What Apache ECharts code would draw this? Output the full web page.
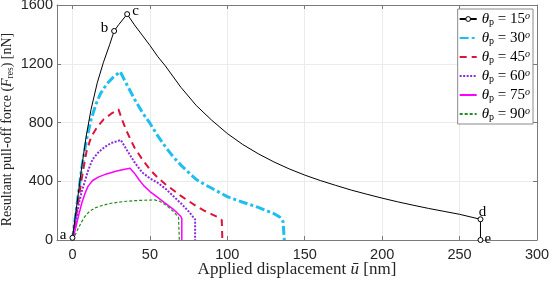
<!DOCTYPE html>
<html>
<head>
<meta charset="utf-8">
<script src="https://cdn.jsdelivr.net/npm/echarts@6/dist/echarts.min.js"></script>
<style>html,body{margin:0;padding:0;background:#fff}#c{width:550px;height:281px}</style>
</head>
<body>
<div id="c"></div>
<script>
// ---- data ----
const xTicks = [0, 50, 100, 150, 200, 250, 300];
const seriesNames = ['15', '30', '45', '60', '75', '90'];
const pointLetters = ['a', 'b', 'c', 'd', 'e'];
const pointIndex = [0, 8, 10, 35, 36];
const th15 = [[0,15],[3,255],[6,500],[9,715],[12,890],[16,1070],[20,1210],[24,1330],[26.9,1423],[30,1468],[35.3,1538],[40,1465],[45,1395],[50,1325],[55,1250],[60,1185],[70,1040],[80,915],[90,815],[100,725],[110,650],[120,587],[130,532],[140,484],[150,442],[160,405],[170,372],[180,340],[190,312],[200,285],[210,260],[220,237],[230,215],[240,195],[250,175],[263.5,141],[263.5,0]];
const th30 = [[0,0],[3,250],[6,490],[9,680],[12,820],[15,920],[18,995],[22,1060],[26,1105],[30.8,1146],[35,1060],[40,960],[45,870],[50,795],[55,710],[60,635],[65,567],[70,510],[75,460],[80,412],[85,380],[90,352],[100,295],[110,257],[120,222],[130,180],[134,155],[136,125],[136.8,0]];
const th45 = [[0,0],[3,210],[6,420],[9,600],[12,700],[16,770],[20,820],[25,860],[29.7,889],[32,820],[35,740],[40,630],[45,550],[50,480],[55,425],[60,380],[65,340],[70,300],[75,265],[80,230],[85,200],[90,175],[94,155],[96.4,136],[96.8,0]];
const th60 = [[0,0],[2,120],[4,240],[6,330],[8,400],[10,470],[13,550],[17,600],[21,635],[25,660],[31.2,681],[35,615],[40,530],[45,460],[50,420],[55,390],[60,350],[65,300],[70,250],[75,195],[78,155],[79.2,140],[79.2,0]];
const th75 = [[0,0],[2,80],[4,170],[6,250],[8,315],[10,365],[13,405],[17,430],[22,450],[28,468],[33,480],[37.2,488],[40,455],[43,410],[46,370],[50,330],[55,290],[60,250],[65,210],[68,180],[70,160],[70.6,145],[70.6,0]];
const th90 = [[0,0],[2,40],[4,85],[6,125],[8,160],[11,195],[15,220],[20,238],[25,250],[30,258],[35,264],[40,268],[45,270],[50,272],[53,273],[56,265],[60,240],[63,215],[66,185],[68.5,155],[69,0]];

// ---- chart ----
const serif = "'Liberation Serif','DejaVu Serif',serif";
const sans = "'Liberation Sans',Arial,sans-serif";
const boxColor = '#7a7a7a';
const gridColor = '#ebebeb';

const labelPos = [
  {position:'left', distance:3, offset:[0,-3]},
  {position:'left', distance:3, offset:[0,-3]},
  {position:'right', distance:2, offset:[0,-3]},
  {position:'top', distance:-3, offset:[2,0]},
  {position:'right', distance:1, offset:[0,-1]}
];

const blackData = th15.map((p, i) => {
  const k = pointIndex.indexOf(i);
  if (k < 0) return {value: p, symbol: 'none'};
  return {value: p, label: Object.assign({show:true, formatter: pointLetters[k], fontFamily: serif, fontSize: 15, color:'#000'}, labelPos[k])};
});

function mk(name, data, color, width, type, extra) {
  return Object.assign({
    name: name, type: 'line', data: data, symbol: 'none', clip: false,
    lineStyle: {color: color, width: width, type: type},
    itemStyle: {color: color},
    z: 2
  }, extra || {});
}

const series = [
  mk(seriesNames[0], blackData, '#000000', 1, 'solid', {symbol:'circle', symbolSize:5, itemStyle:{color:'#fff', borderColor:'#000', borderWidth:1}, z:10}),
  mk(seriesNames[1], th30, '#1EBEF0', 3, [9,3,3,3]),
  mk(seriesNames[2], th45, '#DC143C', 2, [7,5]),
  mk(seriesNames[3], th60, '#8A2BE2', 2, [2,1.5]),
  mk(seriesNames[4], th75, '#FF00FF', 1.5, 'solid'),
  mk(seriesNames[5], th90, '#228B22', 1.2, [3,2])
];

const legendData = seriesNames.map((n, i) => i === 0
  ? {name:n, itemStyle:{opacity:1, color:'#fff', borderColor:'#000', borderWidth:1}}
  : {name:n});

const axisCommonX = {type:'value', min:-10, max:300, gridIndex:0};
const chart = echarts.init(document.getElementById('c'), null, {renderer:'canvas'});
chart.setOption({
  animation: false,
  backgroundColor: '#fff',
  grid: {left:57, right:13, top:5, bottom:41, show:false, containLabel:false, outerBoundsMode:'none'},
  legend: {
    orient:'vertical', right:17, top:9,
    itemWidth:17, itemHeight:6, itemGap:3,
    padding:[2,3,2,1],
    borderColor:'#8a8a8a', borderWidth:1, backgroundColor:'#fff',
    itemStyle:{opacity:0},
    data: legendData,
    formatter: n => '{i|θ}{s|p}{n| = ' + n + '}{u|o}',
    textStyle: {
      fontFamily: serif, fontSize: 15, color:'#000',
      rich: {
        i:{fontFamily:serif, fontStyle:'italic', fontSize:15, lineHeight:16},
        s:{fontFamily:serif, fontSize:10, lineHeight:10, verticalAlign:'bottom'},
        n:{fontFamily:serif, fontSize:15, lineHeight:16},
        u:{fontFamily:serif, fontStyle:'italic', fontSize:10, lineHeight:10, verticalAlign:'top'}
      }
    }
  },
  xAxis: [
    Object.assign({}, axisCommonX, {
      position:'bottom',
      axisLine:{show:true, onZero:false, lineStyle:{color:boxColor, width:1}},
      axisTick:{show:true, inside:true, length:4, customValues:xTicks, lineStyle:{color:boxColor}},
      axisLabel:{show:true, customValues:xTicks, fontFamily:sans, fontSize:14.5, color:'#262626', margin:7, formatter: v => String(v)},
      splitLine:{show:true, lineStyle:{color:gridColor, width:1}},
      name:'{n|Applied displacement }{i|ū}{n| [nm]}',
      nameLocation:'middle', nameGap:21, nameMoveOverlap:false,
      nameTextStyle:{fontFamily:serif, fontSize:17, color:'#262626', lineHeight:18,
        rich:{n:{fontFamily:serif, fontSize:17, color:'#262626', lineHeight:18}, i:{fontFamily:serif, fontStyle:'italic', fontSize:17, color:'#262626', lineHeight:18}}}
    }),
    Object.assign({}, axisCommonX, {
      position:'top',
      axisLine:{show:true, onZero:false, lineStyle:{color:boxColor, width:1}},
      axisTick:{show:true, inside:true, length:4, customValues:xTicks, lineStyle:{color:boxColor}},
      axisLabel:{show:false},
      splitLine:{show:false}
    })
  ],
  yAxis: [
    {
      type:'value', min:0, max:1600, interval:400, position:'left',
      axisLine:{show:true, onZero:false, lineStyle:{color:boxColor, width:1}},
      axisTick:{show:true, inside:true, length:4, lineStyle:{color:boxColor}},
      axisLabel:{fontFamily:sans, fontSize:14.5, color:'#262626', margin:4, formatter: v => String(v)},
      splitLine:{show:true, lineStyle:{color:gridColor, width:1}},
      name:'{n|Resultant pull-off force (}{i|F}{s|res}{n|) [nN]}',
      nameLocation:'middle', nameGap:42, nameRotate:90, nameMoveOverlap:false,
      nameTextStyle:{fontFamily:serif, fontSize:14, color:'#262626', padding:[0,14,0,0],
        rich:{
          n:{fontFamily:serif, fontSize:14, color:'#262626', lineHeight:15},
          i:{fontFamily:serif, fontStyle:'italic', fontSize:14, color:'#262626', lineHeight:15},
          s:{fontFamily:serif, fontSize:9.5, color:'#262626', lineHeight:10, verticalAlign:'bottom'}
        }}
    },
    {
      type:'value', min:0, max:1600, interval:400, position:'right',
      axisLine:{show:true, onZero:false, lineStyle:{color:boxColor, width:1}},
      axisTick:{show:true, inside:true, length:4, lineStyle:{color:boxColor}},
      axisLabel:{show:false},
      splitLine:{show:false}
    }
  ],
  series: series
});
</script>
</body>
</html>
